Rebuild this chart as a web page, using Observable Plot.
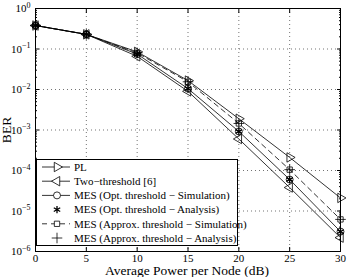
<!DOCTYPE html>
<html><head><meta charset="utf-8">
<script src="https://cdn.jsdelivr.net/npm/d3@7"></script>
<script src="https://cdn.jsdelivr.net/npm/@observablehq/plot@0.6"></script>
<style>body{margin:0;background:#fff}#chart{position:relative;width:349px;height:277px}</style>
</head><body><div id="chart"></div>
<script>
const power = [0, 5, 10, 15, 20, 25, 30];
const berPL = [0.38, 0.23, 0.085, 0.0166, 0.0019, 2.1e-4, 2.1e-5];
const berTwoThreshold = [0.38, 0.23, 0.066, 0.009, 0.0006, 3.8e-5, 2.2e-6];
const berMesOptSim = [0.38, 0.23, 0.075, 0.0105, 0.00092, 6e-5, 3.1e-6];
const berMesOptAna = [0.38, 0.23, 0.075, 0.0105, 0.00092, 6e-5, 3.1e-6];
const berMesApxSim = [0.38, 0.23, 0.08, 0.0155, 0.00145, 1.05e-4, 6.2e-6];
const berMesApxAna = [0.38, 0.23, 0.08, 0.0155, 0.00145, 1.05e-4, 6.2e-6];
const xTicks = [0, 5, 10, 15, 20, 25, 30];
const yExponents = [0, -1, -2, -3, -4, -5, -6];
const legendLabels = ["PL", "Two\u2212threshold [6]", "MES (Opt. threshold \u2212 Simulation)", "MES (Opt. threshold \u2212 Analysis)", "MES (Approx. threshold \u2212 Simulation)", "MES (Approx. threshold \u2212 Analysis)"];

const series = [
  {label: legendLabels[0], values: berPL, symbol: "triangle", rotate: 90, line: true, dash: null},
  {label: legendLabels[1], values: berTwoThreshold, symbol: "triangle", rotate: -90, line: true, dash: null},
  {label: legendLabels[2], values: berMesOptSim, symbol: "circle", rotate: 0, line: true, dash: null},
  {label: legendLabels[3], values: berMesOptAna, symbol: "asterisk", rotate: 0, line: false, dash: null},
  {label: legendLabels[4], values: berMesApxSim, symbol: "square", rotate: 0, line: true, dash: "5,4"},
  {label: legendLabels[5], values: berMesApxAna, symbol: "plus", rotate: 0, line: false, dash: null}
];

const yMajor = yExponents.map(e => Math.pow(10, e));
const yMinor = [];
for (let e = -6; e < 0; e++) for (let m = 2; m <= 9; m++) yMinor.push(m * Math.pow(10, e));
const blank = () => "";
const serif = "'Liberation Serif', 'Times New Roman', 'DejaVu Serif', serif";

const marks = [
  Plot.gridX(xTicks, {stroke: "#000", strokeOpacity: 0.55, strokeDasharray: "1,3"}),
  Plot.gridY(yMajor, {stroke: "#000", strokeOpacity: 0.55, strokeDasharray: "1,3"}),
  Plot.axisX(xTicks, {anchor: "bottom", tickSize: 0, tickPadding: 3, fontSize: 11, label: null}),
  Plot.axisX(xTicks, {anchor: "bottom", tickSize: -4, tickFormat: blank, label: null}),
  Plot.axisX(xTicks, {anchor: "top", tickSize: -4, tickFormat: blank, label: null}),
  Plot.axisY(yMajor, {anchor: "left", tickSize: 0, tickPadding: 5, fontSize: 11, label: null, tickFormat: d => String(Math.round(Math.log10(d)))}),
  Plot.axisY(yMajor, {anchor: "left", tickSize: -4, tickFormat: blank, label: null}),
  Plot.axisY(yMajor, {anchor: "right", tickSize: -4, tickFormat: blank, label: null}),
  Plot.axisY(yMinor, {anchor: "left", tickSize: -2, tickFormat: blank, label: null}),
  Plot.axisY(yMinor, {anchor: "right", tickSize: -2, tickFormat: blank, label: null}),
  Plot.frame({stroke: "#000", strokeWidth: 1})
];
for (const s of series) {
  const rows = power.map((p, i) => ({p, v: s.values[i]}));
  if (s.line) marks.push(Plot.line(rows, {x: "p", y: "v", stroke: "#000", strokeWidth: 0.8, strokeDasharray: s.dash}));
  marks.push(Plot.dot(rows, {x: "p", y: "v", symbol: () => s.symbol, rotate: s.rotate, r: s.symbol === "square" ? 3 : 3.5, stroke: "#000", strokeWidth: s.symbol === "asterisk" ? 1.3 : 0.8, fill: "none"}));
}

const svg = Plot.plot({
  width: 349, height: 277,
  marginLeft: 35, marginRight: 9, marginTop: 8, marginBottom: 26,
  style: {fontFamily: serif, background: "#fff", color: "#000", overflow: "visible"},
  x: {domain: [0, 30], label: null},
  y: {type: "log", domain: [1e-6, 1], label: null},
  symbol: {type: "identity"},
  marks
});

const root = d3.select(svg);
root.selectAll('g[aria-label="y-axis tick label"] text').each(function() {
  const t = d3.select(this);
  const raw = t.text();
  if (!raw) return;
  const e = raw.replace("-", "\u2212");
  t.text("");
  t.append("tspan").text("10");
  t.append("tspan").attr("dy", "-0.55em").attr("font-size", "8px").text(e);
});

root.append("text").attr("x", 187).attr("y", 275).attr("text-anchor", "middle")
  .attr("font-size", 13.5).style("font-family", serif).text("Average Power per Node (dB)");
root.append("text").attr("transform", "translate(11,130) rotate(-90)").attr("text-anchor", "middle")
  .attr("font-size", 13.5).style("font-family", serif).text("BER");

const lg = root.append("g").style("font-family", serif).attr("font-size", 11).attr("text-anchor", "start");
lg.append("rect").attr("x", 36.5).attr("y", 159.5).attr("width", 201).attr("height", 86).attr("fill", "#fff").attr("stroke", "#000").attr("stroke-width", 1);
const symMap = {triangle: d3.symbolTriangle, circle: d3.symbolCircle, square: d3.symbolSquare, asterisk: d3.symbolAsterisk, plus: d3.symbolPlus};
series.forEach((s, i) => {
  const y = 167 + i * 14.2;
  if (s.line) lg.append("line").attr("x1", 42).attr("x2", 70).attr("y1", y).attr("y2", y).attr("stroke", "#000").attr("stroke-width", 0.8).attr("stroke-dasharray", s.dash);
  const r = s.symbol === "square" ? 3 : 3.5;
  lg.append("path").attr("d", d3.symbol(symMap[s.symbol], Math.PI * r * r)())
    .attr("transform", `translate(57,${y}) rotate(${s.rotate})`)
    .attr("fill", "#fff").attr("stroke", "#000").attr("stroke-width", s.symbol === "asterisk" ? 1.3 : 0.8);
  lg.append("text").attr("x", 74).attr("y", y).attr("dy", "0.35em").attr("text-anchor", "start").text(s.label);
});

document.getElementById("chart").appendChild(svg);
</script>
</body></html>
